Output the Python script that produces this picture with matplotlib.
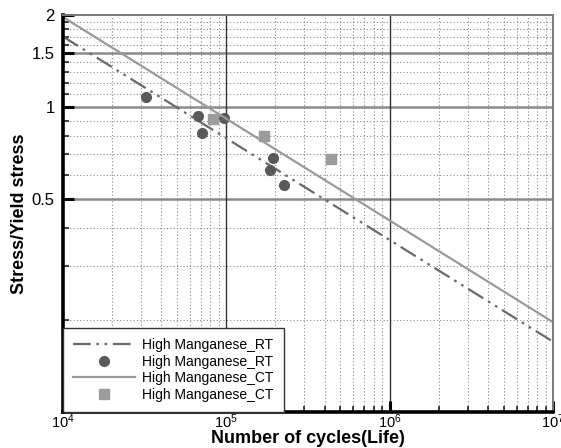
import numpy as np
import matplotlib
matplotlib.use("Agg")
import matplotlib.pyplot as plt
from matplotlib.ticker import FixedLocator, FixedFormatter, LogLocator, NullFormatter

plt.rcParams['font.family'] = ['Liberation Sans', 'DejaVu Sans']

# ---- data ----
rt_line_x = [1e4, 1e7]
rt_line_y = [1.70, 0.170]
ct_line_x = [1e4, 1e7]
ct_line_y = [1.97, 0.197]

rt_x = [3.23e4, 6.73e4, 7.13e4, 9.72e4, 1.94e5, 1.84e5, 2.27e5]
rt_y = [1.08, 0.934, 0.822, 0.92, 0.68, 0.621, 0.555]

ct_x = [8.32e4, 1.69e5, 4.35e5]
ct_y = [0.914, 0.803, 0.675]

y_major = [0.5, 1, 1.5, 2]
y_major_labels = ['0.5', '1', '1.5', '2']
y_minor = [0.2, 0.3, 0.4, 0.6, 0.7, 0.8, 0.9, 1.1, 1.2, 1.3, 1.4,
           1.6, 1.7, 1.8, 1.9]

label = 'High Manganese_'

fig = plt.figure(figsize=(5.61, 4.48), dpi=100)
ax = fig.add_axes([0.1123, 0.0804, 0.8734, 0.886])

ax.set_xscale('log')
ax.set_yscale('log')
ax.set_xlim(1e4, 1e7)
ax.set_ylim(0.1, 2)

# grid
for yv in y_minor:
    ax.axhline(yv, color='#888888', lw=0.8, ls=(0, (1, 2)), zorder=0)
for yv in y_major[:-1]:
    ax.axhline(yv, color='#8a8a8a', lw=1.8, zorder=0.5)
for dec in [1e4, 1e5, 1e6]:
    for m in range(2, 10):
        ax.axvline(dec * m, color='#888888', lw=0.8, ls=(0, (1, 2)), zorder=0)
for xv in [1e5, 1e6]:
    ax.axvline(xv, color='#333333', lw=1.0, zorder=0.5)

# fitted lines
ax.plot(rt_line_x, rt_line_y, color='#6a6a6a', lw=1.6,
        ls=(0, (8, 2.5, 1.2, 2.5, 1.2, 2.5)), label=label + 'RT')
ax.plot(rt_x, rt_y, ls='none', marker='o', ms=7, color='#5a5a5a',
        label=label + 'RT')
ax.plot(ct_line_x, ct_line_y, color='#9a9a9a', lw=1.6, label=label + 'CT')
ax.plot(ct_x, ct_y, ls='none', marker='s', ms=7, color='#9c9c9c',
        label=label + 'CT')

# ticks
ax.yaxis.set_major_locator(FixedLocator(y_major))
ax.yaxis.set_major_formatter(FixedFormatter(y_major_labels))
ax.yaxis.set_minor_locator(FixedLocator(y_minor))
ax.yaxis.set_minor_formatter(NullFormatter())
ax.xaxis.set_major_locator(LogLocator(base=10, numticks=10))
ax.xaxis.set_minor_locator(LogLocator(base=10, subs=np.arange(2, 10), numticks=20))
ax.xaxis.set_minor_formatter(NullFormatter())

ax.tick_params(which='major', direction='in', length=8, width=2.2,
               labelsize=12, color='black')
ax.tick_params(which='minor', direction='in', length=4, width=1.2, color='#222222')
ax.tick_params(axis='y', which='both', right=False, pad=6)
ax.tick_params(axis='x', which='both', top=False, pad=0, labelsize=10.5)

for s in ['left', 'bottom']:
    ax.spines[s].set_linewidth(2.6)
    ax.spines[s].set_color('black')
for s in ['top', 'right']:
    ax.spines[s].set_linewidth(1.4)
    ax.spines[s].set_color('#777777')

ax.set_xlabel('Number of cycles(Life)', fontsize=13, fontweight='bold')
ax.xaxis.set_label_coords(0.5, -0.046)
ax.set_ylabel('Stress/Yield stress', fontsize=13, fontweight='bold', labelpad=3)

leg = ax.legend(loc='lower left', fontsize=10, handlelength=4.4,
                labelspacing=0.18, borderaxespad=0, fancybox=False,
                framealpha=1, edgecolor='#333333', borderpad=0.75,
                handletextpad=0.55)
leg.get_frame().set_linewidth(1.0)

fig.savefig('out.png', dpi=100)
